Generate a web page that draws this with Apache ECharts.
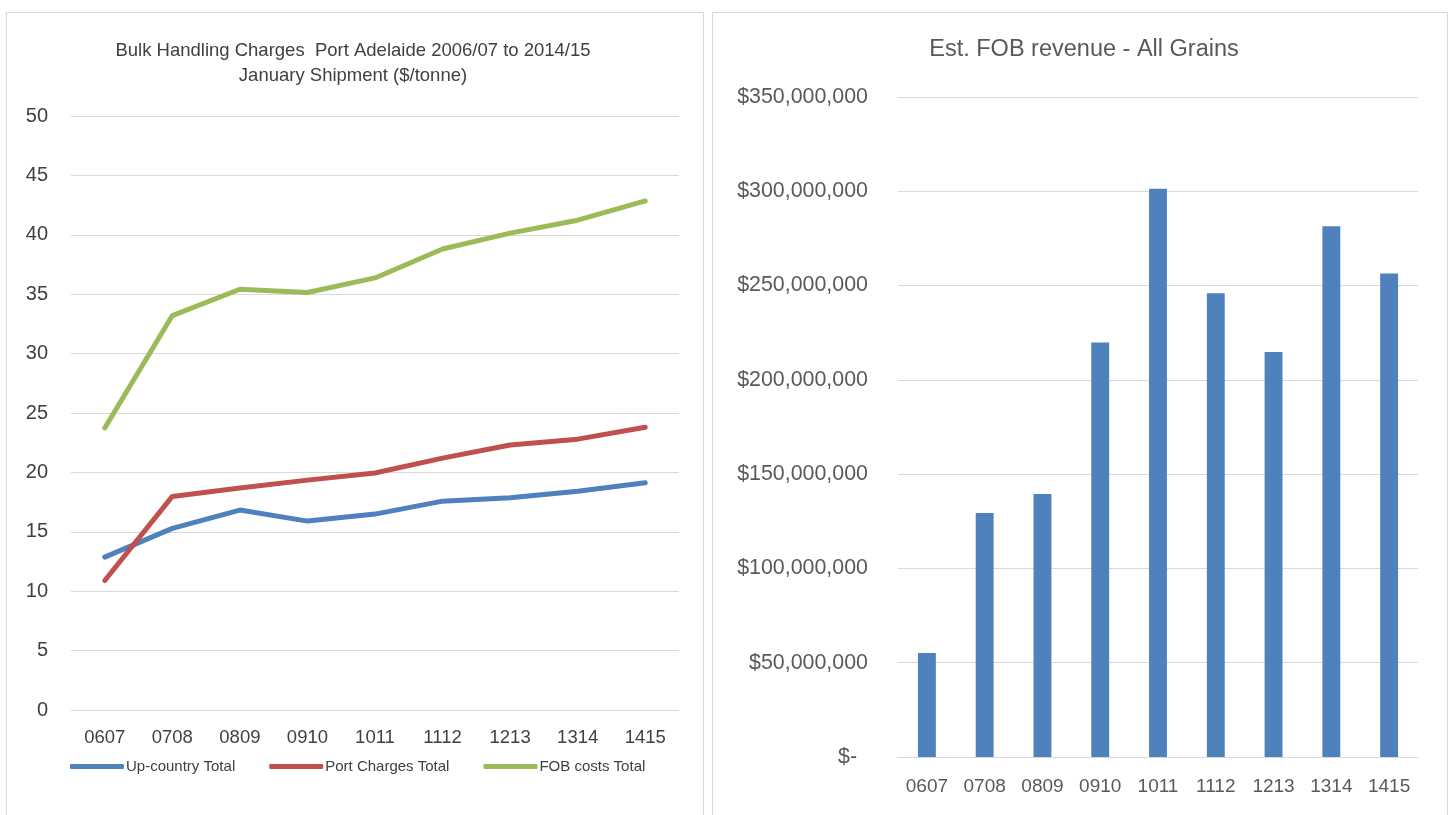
<!DOCTYPE html>
<html><head><meta charset="utf-8">
<script src="https://cdn.jsdelivr.net/npm/echarts@6/dist/echarts.min.js"></script>
<style>html,body{margin:0;padding:0;background:#fff;}#c{width:1451px;height:815px;}</style>
</head><body><div id="c"></div>
<script>
const categories = ['0607','0708','0809','0910','1011','1112','1213','1314','1415'];
const upCountry = [12.87, 15.29, 16.83, 15.9, 16.49, 17.58, 17.86, 18.42, 19.12];
const portCharges = [10.9, 17.98, 18.68, 19.35, 19.95, 21.2, 22.3, 22.8, 23.8];
const fobCosts = [23.74, 33.2, 35.42, 35.14, 36.37, 38.8, 40.14, 41.23, 42.85];
const fobRevenue = [55100000, 129400000, 139500000, 219800000, 301300000, 245900000, 214800000, 281400000, 256400000];
const leftTitle = 'Bulk Handling Charges  Port Adelaide 2006/07 to 2014/15\nJanuary Shipment ($/tonne)';
const rightTitle = 'Est. FOB revenue - All Grains';

const FONT = "'Liberation Sans', sans-serif";
const TXT = '#595959';
const GRID = '#d9d9d9';

function money(v){
  if (v === 0) return '{z|$-}';
  return '$' + v.toLocaleString('en-US');
}

const chart = echarts.init(document.getElementById('c'));
chart.setOption({
  animation: false,
  textStyle: {fontFamily: FONT},
  graphic: [
    {type:'rect', shape:{x:6.5, y:12.5, width:697, height:820}, style:{fill:'none', stroke:'#d9d9d9', lineWidth:1}},
    {type:'rect', shape:{x:712.5, y:12.5, width:735, height:820}, style:{fill:'none', stroke:'#d9d9d9', lineWidth:1}}
  ],
  title: [
    {text: leftTitle, left: 348, top: 33, textAlign:'center',
     textStyle:{fontFamily:FONT, fontSize:18.5, fontWeight:'normal', color:'#404040', lineHeight:25, align:'center'}},
    {text: rightTitle, left: 1079, top: 33, textAlign:'center',
     textStyle:{fontFamily:FONT, fontSize:23.5, fontWeight:'normal', color:TXT}}
  ],
  legend: {
    left: 65, top: 754, itemWidth: 54, itemHeight: 5, itemGap: 34,
    icon: 'roundRect',
    textStyle: {fontFamily:FONT, fontSize:15, color:'#404040', padding:[0,0,0,-3]},
    data: ['Up-country Total','Port Charges Total','FOB costs Total']
  },
  grid: [
    {left:71, right:1451-679, top:116, bottom:815-710},
    {left:898, right:1451-1418, top:97, bottom:815-757}
  ],
  xAxis: [
    {type:'category', gridIndex:0, data:categories, boundaryGap:true,
     axisLine:{show:false}, axisTick:{show:false},
     axisLabel:{color:'#404040', fontSize:18.5, margin:18, fontFamily:FONT}},
    {type:'category', gridIndex:1, data:categories, boundaryGap:true,
     axisLine:{show:true, lineStyle:{color:GRID, width:1}}, axisTick:{show:false},
     axisLabel:{color:TXT, fontSize:19, margin:20, fontFamily:FONT}}
  ],
  yAxis: [
    {type:'value', gridIndex:0, min:0, max:50, interval:5,
     axisLine:{show:false}, axisTick:{show:false},
     splitLine:{lineStyle:{color:GRID, width:1}},
     axisLabel:{color:'#404040', fontSize:20, margin:23, fontFamily:FONT}},
    {type:'value', gridIndex:1, min:0, max:350000000, interval:50000000,
     axisLine:{show:false}, axisTick:{show:false},
     splitLine:{lineStyle:{color:GRID, width:1}},
     axisLabel:{color:TXT, fontSize:21.4, margin:30, fontFamily:FONT, formatter: money,
       rich:{z:{color:TXT, fontSize:21.4, fontFamily:FONT, padding:[0,11,0,0]}}}}
  ],
  series: [
    {name:'Up-country Total', type:'line', xAxisIndex:0, yAxisIndex:0, data:upCountry,
     symbol:'none', lineStyle:{color:'#4f81bd', width:5, cap:'round', join:'round'}, itemStyle:{color:'#4f81bd'}},
    {name:'Port Charges Total', type:'line', xAxisIndex:0, yAxisIndex:0, data:portCharges,
     symbol:'none', lineStyle:{color:'#c0504d', width:5, cap:'round', join:'round'}, itemStyle:{color:'#c0504d'}},
    {name:'FOB costs Total', type:'line', xAxisIndex:0, yAxisIndex:0, data:fobCosts,
     symbol:'none', lineStyle:{color:'#9bbb59', width:5, cap:'round', join:'round'}, itemStyle:{color:'#9bbb59'}},
    {name:'Est. FOB revenue', type:'bar', xAxisIndex:1, yAxisIndex:1, data:fobRevenue,
     barWidth:'31%', itemStyle:{color:'#4f81bd'}}
  ]
});
</script>
</body></html>
